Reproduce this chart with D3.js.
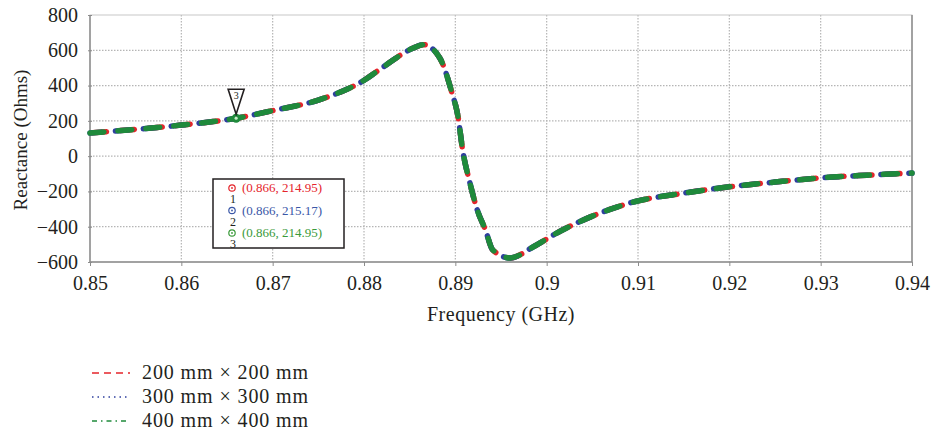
<!DOCTYPE html>
<html>
<head>
<meta charset="utf-8">
<script src="https://cdn.jsdelivr.net/npm/d3@7"></script>
<style>
  body { margin: 0; background: #fff; }
  svg text { font-family: "Liberation Serif", "Times New Roman", serif; fill: #231f20; }
</style>
</head>
<body>
<div id="chart"></div>
<script>
// Frequenzpunkte (GHz) und Reaktanz (Ohm)
const freq = [0.85, 0.855, 0.86, 0.866, 0.87, 0.875, 0.88, 0.8821, 0.8854, 0.8865, 0.8883, 0.8896, 0.8903, 0.8908,
              0.8916, 0.8924, 0.8933, 0.8941, 0.896, 0.8985, 0.9011, 0.905, 0.9095, 0.915, 0.92, 0.925, 0.93, 0.935, 0.94];
const react200 = [131, 152, 176, 214.95, 258, 318, 430, 505, 613, 632, 556, 364, 222, 35,
                  -152, -305, -419, -532, -577, -515, -436, -340, -260, -210, -174, -147, -123, -108, -96];
const react300 = [131, 152, 176, 215.17, 258, 318, 430, 505, 613, 632, 556, 364, 222, 35,
                  -152, -305, -419, -532, -577, -515, -436, -340, -260, -210, -174, -147, -123, -108, -96];
const react400 = [131, 152, 176, 214.95, 258, 318, 430, 505, 613, 632, 556, 364, 222, 35,
                  -152, -305, -419, -532, -577, -515, -436, -340, -260, -210, -174, -147, -123, -108, -96];

const xTicks = [0.85, 0.86, 0.87, 0.88, 0.89, 0.9, 0.91, 0.92, 0.93, 0.94];
const yTicks = [-600, -400, -200, 0, 200, 400, 600, 800];

const seriesNames = ["200 mm × 200 mm", "300 mm × 300 mm", "400 mm × 400 mm"];
const markerLabels = ["(0.866, 214.95)", "(0.866, 215.17)", "(0.866, 214.95)"];
const markerFreq = 0.866;

const colors = ["#e5242b", "#2e3f9e", "#1f8a3b"];
const labelColors = ["#e5242b", "#3a57a7", "#3a9a3a"];
const serif = "'Liberation Serif', 'Times New Roman', serif";

const W = 931, H = 438;
const margin = { left: 90, right: 19, top: 15, bottom: 176 };
const width = W - margin.left - margin.right;
const height = H - margin.top - margin.bottom;

const svg = d3.select("#chart").append("svg")
    .attr("width", W).attr("height", H);

const g = svg.append("g").attr("transform", `translate(${margin.left},${margin.top})`);

const x = d3.scaleLinear().domain([0.85, 0.94]).range([0, width]);
const y = d3.scaleLinear().domain([-600, 800]).range([height, 0]);

// Gitterlinien
g.selectAll(".vgrid").data(xTicks.slice(1, -1)).enter().append("line")
    .attr("x1", d => x(d)).attr("x2", d => x(d))
    .attr("y1", 0).attr("y2", height)
    .attr("stroke", "#b5b5b5").attr("stroke-width", 1.2).attr("stroke-dasharray", "1.5,1.5");
g.selectAll(".hgrid").data(yTicks.slice(1, -1)).enter().append("line")
    .attr("x1", 0).attr("x2", width)
    .attr("y1", d => y(d)).attr("y2", d => y(d))
    .attr("stroke", "#b5b5b5").attr("stroke-width", 1.2).attr("stroke-dasharray", "1.5,1.5");

// Rahmen
g.append("rect").attr("x", 0).attr("y", 0).attr("width", width).attr("height", height)
    .attr("fill", "none").attr("stroke", "#c8c8c8").attr("stroke-width", 1);
g.append("line").attr("x1", 0).attr("x2", width).attr("y1", height).attr("y2", height)
    .attr("stroke", "#8c8c8c").attr("stroke-width", 1.5);
g.append("line").attr("x1", 0).attr("x2", 0).attr("y1", 0).attr("y2", height)
    .attr("stroke", "#8c8c8c").attr("stroke-width", 1.5);
g.append("line").attr("x1", width).attr("x2", width).attr("y1", 0).attr("y2", height)
    .attr("stroke", "#8c8c8c").attr("stroke-width", 1.5);

// Achsen
const xAxis = d3.axisBottom(x).tickValues(xTicks).tickFormat(d => String(+d.toFixed(2))).tickSize(4).tickSizeOuter(0);
const yAxis = d3.axisLeft(y).tickValues(yTicks).tickSize(4).tickSizeOuter(0).tickPadding(6);

const gx = g.append("g").attr("transform", `translate(0,${height})`).call(xAxis);
gx.attr("font-family", null);
gx.select(".domain").remove();
gx.selectAll("line").attr("stroke", "#8c8c8c");
gx.selectAll("text").attr("font-size", "20px").attr("y", 0).attr("dy", null)
    .attr("transform", "translate(0,28)")
    .style("font-family", serif).attr("fill", "#231f20");

const gy = g.append("g").call(yAxis);
gy.attr("font-family", null);
gy.select(".domain").remove();
gy.selectAll("line").attr("stroke", "#8c8c8c").attr("x2", 2).attr("x1", -2);
gy.selectAll("text").attr("font-size", "20px").attr("x", -12)
    .style("font-family", serif).attr("fill", "#231f20");

// Achsentitel
svg.append("text")
    .attr("x", margin.left + width / 2).attr("y", 321)
    .attr("text-anchor", "middle").attr("font-size", "20px")
    .attr("letter-spacing", "0.5px")
    .text("Frequency (GHz)");
svg.append("text")
    .attr("transform", `translate(27,140) rotate(-90)`)
    .attr("text-anchor", "middle").attr("font-size", "19px")
    .text("Reactance (Ohms)");

// Kurven
const data = [react200, react300, react400];
const dashes = ["14,14", "14,14", "14,14"];
const offsets = [-2.5, 2.5, 0];
const line = d3.line().x((d, i) => x(freq[i])).y(d => y(d)).curve(d3.curveMonotoneX);

data.forEach((vals, k) => {
    g.append("path").datum(vals)
        .attr("fill", "none")
        .attr("stroke", colors[k])
        .attr("stroke-width", 5.5)
        .attr("stroke-linecap", "round")
        .attr("stroke-dasharray", dashes[k])
        .attr("stroke-dashoffset", offsets[k])
        .attr("d", line);
});

// Marker 3 auf der Kurve
const mi = freq.indexOf(markerFreq);
const mx = x(markerFreq), my = y(react400[mi]);
g.append("circle").attr("cx", mx).attr("cy", my).attr("r", 4.5).attr("fill", colors[2]);
g.append("circle").attr("cx", mx).attr("cy", my).attr("r", 1.6).attr("fill", "#c8ecc8");
g.append("path")
    .attr("d", `M${mx - 8},${my - 29} L${mx + 8},${my - 29} L${mx},${my - 4} Z`)
    .attr("fill", "#fff").attr("stroke", "#231f20").attr("stroke-width", 1.6);
g.append("text").attr("x", mx).attr("y", my - 19).attr("text-anchor", "middle")
    .attr("font-size", "10px").text("3");

// Markerbox
const box = svg.append("g").attr("transform", "translate(213,179)");
box.append("rect").attr("width", 131).attr("height", 69)
    .attr("fill", "#fff").attr("stroke", "#231f20").attr("stroke-width", 1.5);
markerLabels.forEach((lab, k) => {
    const cy = 9 + k * 22.5;
    box.append("circle").attr("cx", 19).attr("cy", cy).attr("r", 3.2)
        .attr("fill", "none").attr("stroke", labelColors[k]).attr("stroke-width", 1.2);
    box.append("circle").attr("cx", 19).attr("cy", cy).attr("r", 0.9).attr("fill", labelColors[k]);
    box.append("text").attr("x", 20).attr("y", cy + 15).attr("text-anchor", "middle")
        .attr("font-size", "12px").text(k + 1);
    box.append("text").attr("x", 29).attr("y", cy + 4).attr("font-size", "13px")
        .style("fill", labelColors[k]).text(lab);
});

// Legende
const legend = svg.append("g").attr("transform", "translate(92,373)");
seriesNames.forEach((name, k) => {
    const ly = k * 24;
    legend.append("line").attr("x1", 0).attr("x2", 38).attr("y1", ly).attr("y2", ly)
        .attr("stroke", colors[k]).attr("stroke-width", 1.3)
        .attr("stroke-dasharray", ["7,5", "1.5,4", "5,4,1.5,4"][k]);
    legend.append("text").attr("x", 50).attr("y", ly + 5.5).attr("font-size", "20px")
        .attr("letter-spacing", "0.9px").text(name);
});
</script>
</body>
</html>
